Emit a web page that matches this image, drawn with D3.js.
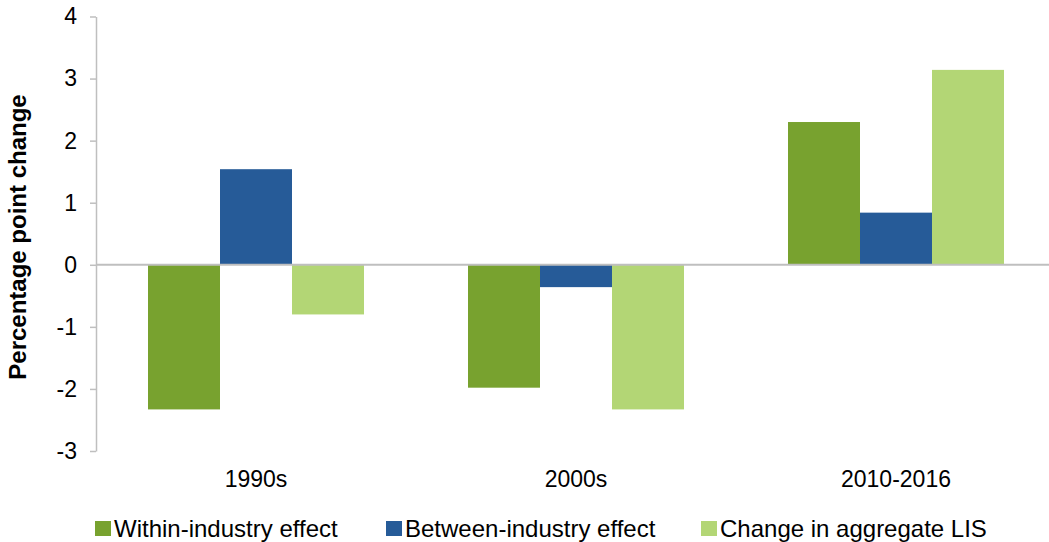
<!DOCTYPE html>
<html>
<head>
<meta charset="utf-8">
<script src="https://cdn.jsdelivr.net/npm/d3@7"></script>
<style>
  html, body { margin: 0; padding: 0; background: #fff; }
  svg { display: block; font-family: "Liberation Sans", Arial, sans-serif; }
</style>
</head>
<body>
<svg id="chart" width="1049" height="542"></svg>
<script>
// Decomposition of the change in the labour income share, by period
const categories = ["1990s", "2000s", "2010-2016"];
const seriesNames = ["Within-industry effect", "Between-industry effect", "Change in aggregate LIS"];
const withinIndustry = [-2.33, -1.98, 2.30];
const betweenIndustry = [1.54, -0.36, 0.84];
const aggregateChange = [-0.80, -2.33, 3.14];
const yTicks = [-3, -2, -1, 0, 1, 2, 3, 4];
const colors = ["#78a22f", "#265b98", "#b3d675"];

const seriesValues = [withinIndustry, betweenIndustry, aggregateChange];

const svg = d3.select("#chart");
const fontFamily = "'Liberation Sans', Arial, sans-serif";
const fontSize = 23;

const x0 = d3.scaleBand().domain(categories).range([96, 1056]).padding(0);
const x1 = d3.scaleBand().domain(seriesNames).range([52, 268]).padding(0);
const y = d3.scaleLinear().domain([-3, 4]).range([451, 16.5]);

// Value axis (plain hyphen for negative numbers)
const yAxis = svg.append("g")
  .attr("transform", "translate(96,0)")
  .call(d3.axisLeft(y).tickValues(yTicks).tickSize(6).tickPadding(13).tickSizeOuter(0)
    .tickFormat(d => String(d)));
yAxis.select(".domain").attr("stroke", "#bfbfbf").attr("stroke-width", 1.5);
yAxis.selectAll(".tick line").attr("stroke", "#bfbfbf").attr("stroke-width", 1.5);
yAxis.selectAll(".tick text")
  .attr("fill", "#000")
  .style("font-size", fontSize + "px")
  .style("font-family", fontFamily);

// Bars
const groups = svg.append("g").selectAll("g")
  .data(categories)
  .join("g")
  .attr("transform", d => `translate(${x0(d)},0)`);

groups.selectAll("rect")
  .data((c, ci) => seriesNames.map((s, si) => ({ s, si, v: seriesValues[si][ci] })))
  .join("rect")
  .attr("x", d => x1(d.s))
  .attr("width", x1.bandwidth())
  .attr("y", d => y(Math.max(0, d.v)))
  .attr("height", d => Math.abs(y(d.v) - y(0)))
  .attr("fill", d => colors[d.si]);

// Zero line / category axis
svg.append("line")
  .attr("x1", 96).attr("x2", 1056)
  .attr("y1", y(0)).attr("y2", y(0))
  .attr("stroke", "#bfbfbf").attr("stroke-width", 2);

// Category labels
svg.append("g").selectAll("text")
  .data(categories)
  .join("text")
  .attr("x", d => x0(d) + x0.bandwidth() / 2)
  .attr("y", 487)
  .attr("text-anchor", "middle")
  .style("font-size", fontSize + "px")
  .text(d => d);

// Y axis title
svg.append("text")
  .attr("transform", "translate(26,237) rotate(-90)")
  .attr("text-anchor", "middle")
  .style("font-size", "24px")
  .style("font-weight", "bold")
  .text("Percentage point change");

// Legend
const legendX = [95, 386, 701];
const legend = svg.append("g").selectAll("g")
  .data(seriesNames)
  .join("g")
  .attr("transform", (d, i) => `translate(${legendX[i]},0)`);
legend.append("rect")
  .attr("x", 0).attr("y", 521)
  .attr("width", 16).attr("height", 15)
  .attr("fill", (d, i) => colors[i]);
legend.append("text")
  .attr("x", 19).attr("y", 537)
  .style("font-size", "24px")
  .text(d => d);
</script>
</body>
</html>
